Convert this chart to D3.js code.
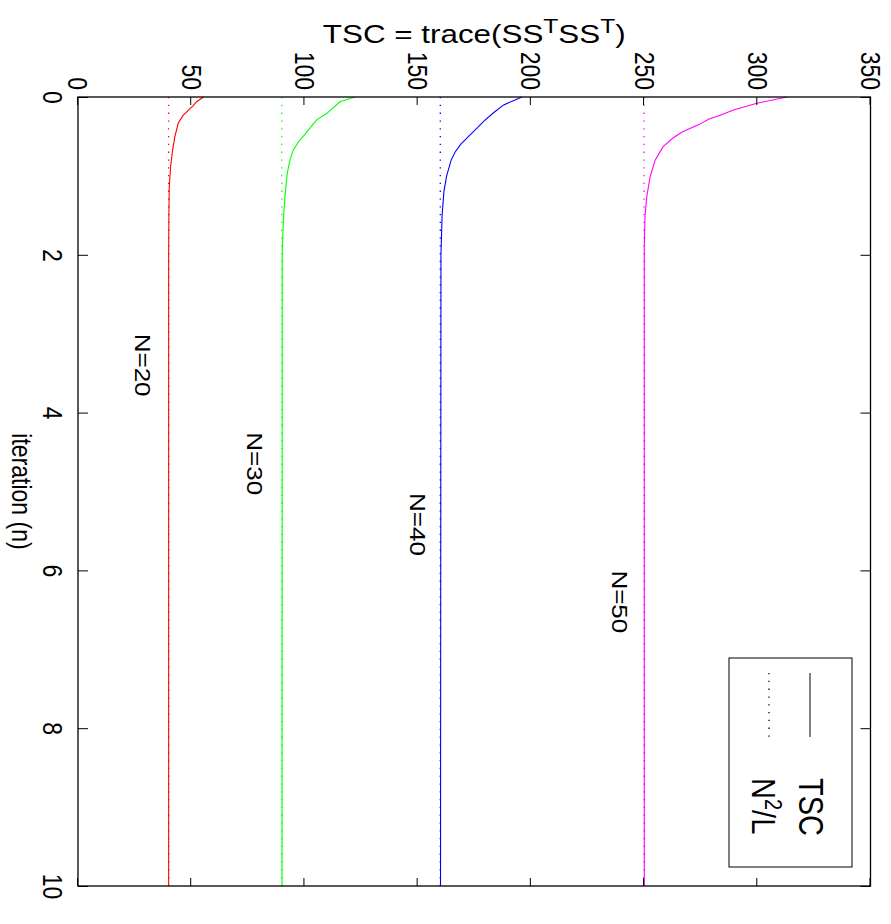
<!DOCTYPE html>
<html>
<head>
<meta charset="utf-8">
<script src="https://cdn.jsdelivr.net/npm/d3@7"></script>
<style>
  body { margin: 0; background: #fff; }
  text { font-family: "Liberation Sans", Arial, sans-serif; }
</style>
</head>
<body>
<div id="chart-area"></div>
<script>
// values
var iterTicks = [0, 2, 4, 6, 8, 10];
var tscTicks = [0, 50, 100, 150, 200, 250, 300, 350];

var seriesN = [20, 30, 40, 50];
var colors = ["#ff0000", "#00ff00", "#0000ff", "#ff00ff"];
var refValues = [40, 90, 160, 250];   // N^2/L with L = 10

var iterN20 = [0, 0.06, 0.11, 0.17, 0.23, 0.33, 0.5, 0.67, 0.88, 1.14, 1.47, 2, 10];
var tscN20  = [55.4, 52.4, 50.9, 48.7, 46.5, 44.3, 42.8, 41.8, 40.9, 40.3, 40.15, 40.05, 40.05];

var iterN30 = [0, 0.06, 0.21, 0.29, 0.42, 0.47, 0.57, 0.67, 0.8, 0.97, 1.26, 1.56, 1.98, 10];
var tscN30  = [122.3, 115.7, 109.8, 105.4, 101.7, 100.3, 97.3, 95.1, 93.6, 92.4, 91.4, 90.7, 90.2, 90.1];

var iterN40 = [0, 0.05, 0.1, 0.2, 0.3, 0.4, 0.5, 0.6, 0.7, 0.8, 1.0, 1.2, 1.5, 2, 10];
var tscN40  = [196, 192, 188, 183.5, 179.5, 176, 172.5, 169, 166.5, 164.8, 162.8, 161.6, 160.8, 160.3, 160.1];

var iterN50 = [0, 0.08, 0.165, 0.23, 0.28, 0.35, 0.4, 0.45, 0.52, 0.63, 0.8, 1.01, 1.26, 1.52, 1.9, 10];
var tscN50  = [313, 299.8, 289.5, 283.6, 278.7, 274.2, 270.2, 266.4, 262.8, 258.4, 254.9, 252.7, 251.2, 250.4, 250.1, 250.1];

var labelText = ["N=20", "N=30", "N=40", "N=50"];
var labelIter = [3.0, 4.25, 5.02, 6.0];
var labelTsc  = [25.2, 74.6, 146.6, 235.9];

var curves = [[iterN20, tscN20], [iterN30, tscN30], [iterN40, tscN40], [iterN50, tscN50]];

// the figure is printed turned by 90 degrees, so draw it upright and rotate the group
var plotLeft = 78, plotRight = 870.5, plotTop = 97, plotBottom = 886;
var width = plotBottom - plotTop,      // iteration axis (screen vertical)
    height = plotRight - plotLeft;     // TSC axis (screen horizontal)
var stretch = 1.23;                    // glyphs are wider across the page than along it

var svg = d3.select("#chart-area")
    .append("svg")
        .attr("width", 891)
        .attr("height", 924);

var g = svg.append("g")
    .attr("transform", "translate(" + plotRight + "," + plotTop + ") rotate(90)");

var x = d3.scaleLinear().domain([0, 10]).range([0, width]);
var y = d3.scaleLinear().domain([0, 350]).range([height, 0]);

// reference lines N^2/L (dotted)
g.selectAll(".ref")
    .data(refValues)
    .enter().append("line")
        .attr("class", "ref")
        .attr("x1", x(0)).attr("x2", x(10))
        .attr("y1", function(d){ return y(d); })
        .attr("y2", function(d){ return y(d); })
        .attr("stroke", function(d, i){ return colors[i]; })
        .attr("stroke-width", 1.3)
        .attr("stroke-dasharray", "1.3,6.5");

// TSC curves
var line = d3.line()
    .x(function(d){ return x(d[0]); })
    .y(function(d){ return y(d[1]); });

curves.forEach(function(c, i) {
    var pts = c[0].map(function(n, j){ return [n, c[1][j]]; });
    g.append("path")
        .datum(pts)
        .attr("d", line)
        .attr("fill", "none")
        .attr("stroke", colors[i])
        .attr("stroke-width", 1.1);
});

// axes, ticks inside on all four sides
function styleAxis(sel) {
    sel.select(".domain").remove();
    sel.selectAll("line").attr("stroke", "#000").attr("stroke-width", 1);
    sel.selectAll("text")
        .attr("fill", "#000")
        .attr("font-size", "23px")
        .attr("transform", "scale(1," + stretch + ")");
}

g.append("g")
    .attr("transform", "translate(0," + height + ")")
    .call(d3.axisBottom(x).tickValues(iterTicks).tickSizeInner(-10).tickSizeOuter(0).tickPadding(12))
    .call(styleAxis);

g.append("g")
    .call(d3.axisTop(x).tickValues(iterTicks).tickSizeInner(-10).tickSizeOuter(0).tickFormat(""))
    .call(styleAxis);

g.append("g")
    .call(d3.axisLeft(y).tickValues(tscTicks).tickSizeInner(-8).tickSizeOuter(0).tickPadding(7))
    .call(styleAxis);

g.append("g")
    .attr("transform", "translate(" + width + ",0)")
    .call(d3.axisRight(y).tickValues(tscTicks).tickSizeInner(-8).tickSizeOuter(0).tickFormat(""))
    .call(styleAxis);

g.append("rect")
    .attr("width", width).attr("height", height)
    .attr("fill", "none").attr("stroke", "#000").attr("stroke-width", 1.3);

// x label
g.append("text")
    .attr("transform", "translate(" + (width / 2) + "," + (height + 66) + ") scale(1," + stretch + ")")
    .attr("text-anchor", "middle")
    .attr("font-size", "23px")
    .text("iteration (n)");

// series labels
labelText.forEach(function(t, i) {
    g.append("text")
        .attr("transform", "translate(" + x(labelIter[i]) + "," + y(labelTsc[i]) + ") scale(1,0.88)")
        .attr("font-size", "26px")
        .text(t);
});

// legend
var lg = g.append("g");
lg.append("rect")
    .attr("x", 561).attr("y", 18.5).attr("width", 209).attr("height", 123)
    .attr("fill", "#fff").attr("stroke", "#000").attr("stroke-width", 1);
lg.append("line")
    .attr("x1", 576).attr("x2", 640).attr("y1", 60.5).attr("y2", 60.5)
    .attr("stroke", "#000").attr("stroke-width", 1);
lg.append("line")
    .attr("x1", 576).attr("x2", 640).attr("y1", 101.5).attr("y2", 101.5)
    .attr("stroke", "#000").attr("stroke-width", 1.3).attr("stroke-dasharray", "1.3,6.5");
lg.append("text")
    .attr("transform", "translate(681,72) scale(1,1.22)")
    .attr("font-size", "29px")
    .text("TSC");
var nl = lg.append("text")
    .attr("transform", "translate(681,118.5) scale(1,1.15)")
    .attr("font-size", "29px");
nl.append("tspan").text("N");
nl.append("tspan").attr("font-size", "20px").attr("dy", "-11").text("2");
nl.append("tspan").attr("dy", "11").text("/L");

// y label (reads horizontally at the top once turned)
var yl = svg.append("text")
    .attr("transform", "translate(" + ((plotLeft + plotRight) / 2) + ",43) scale(" + stretch + ",1)")
    .attr("text-anchor", "middle")
    .attr("font-size", "25.5px");
yl.append("tspan").text("TSC = trace(SS");
yl.append("tspan").attr("font-size", "20px").attr("dy", "-10").text("T");
yl.append("tspan").attr("dy", "10").text("SS");
yl.append("tspan").attr("font-size", "20px").attr("dy", "-10").text("T");
yl.append("tspan").attr("dy", "10").text(")");
</script>
</body>
</html>
